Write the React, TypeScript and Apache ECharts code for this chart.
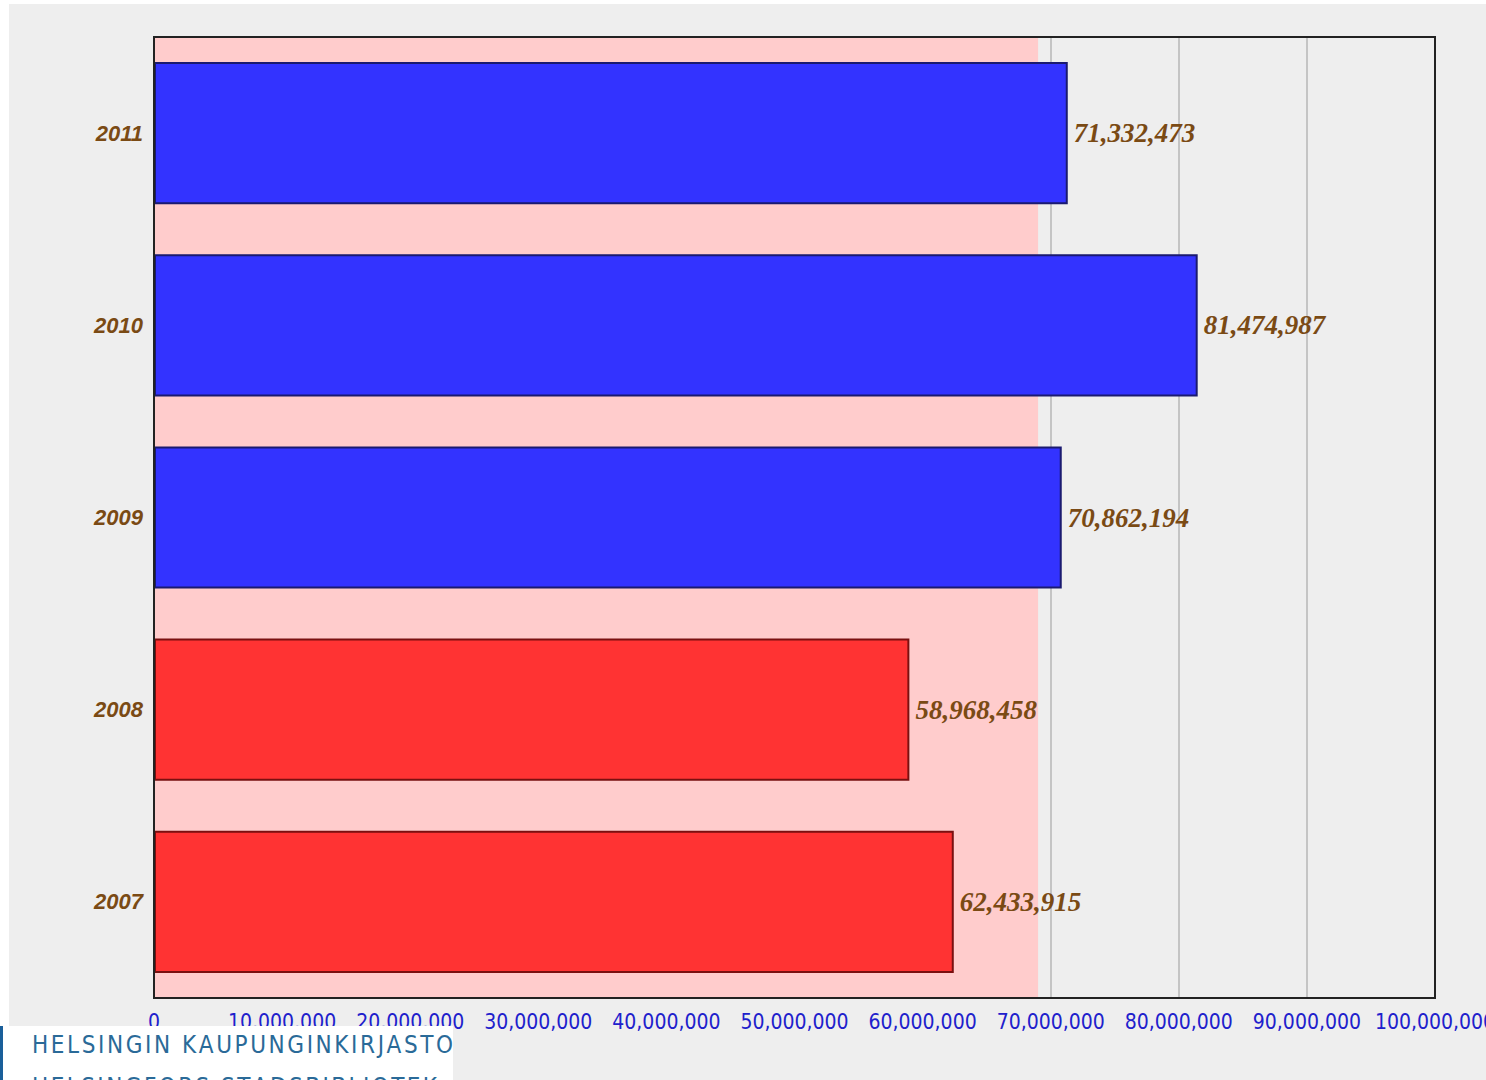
import React, { useEffect, useRef } from "react";
import * as echarts from "echarts";

const years = ["2007", "2008", "2009", "2010", "2011"];
const values = [62433915, 58968458, 70862194, 81474987, 71332473];
const barColors = ["#ff3333", "#ff3333", "#3333ff", "#3333ff", "#3333ff"];
const barBorders = ["#7a1010", "#7a1010", "#1a1a70", "#1a1a70", "#1a1a70"];
const averageValue = 69014405;
const xMax = 100000000;
const xInterval = 10000000;
const logoLine1 = "HELSINGIN KAUPUNGINKIRJASTO";
const logoLine2 = "HELSINGFORS STADSBIBLIOTEK";

function fmt(v: number) {
  return String(Math.round(v)).replace(/\B(?=(\d{3})+(?!\d))/g, ",");
}

function spacedText(text: string, x0: number, targetWidth: number, y: number, font: string, size: number, color: string) {
  const c = document.createElement("canvas").getContext("2d")!;
  c.font = `${size}px "${font}"`;
  const chars = Array.from(text);
  const widths = chars.map((ch) => c.measureText(ch).width);
  const total = widths.reduce((a, b) => a + b, 0);
  const tracking = (targetWidth - total) / (chars.length - 1);
  const els: any[] = [];
  let x = x0;
  chars.forEach((ch, i) => {
    els.push({
      type: "text",
      x,
      y,
      z: 100,
      style: { text: ch, fontFamily: font, fontSize: size, fill: color, verticalAlign: "middle" },
    });
    x += widths[i] + tracking;
  });
  return els;
}

export default function App() {
  const ref = useRef<HTMLDivElement>(null);
  useEffect(() => {
    document.body.style.margin = "0";
    const chart = echarts.init(ref.current!, undefined, { renderer: "svg" });
    const logoFont = "DejaVu Sans Condensed";
    chart.setOption({
      animation: false,
      backgroundColor: "#ffffff",
      grid: {
        left: 154,
        top: 37,
        right: 51,
        bottom: 82,
        outerBoundsMode: "none",
        containLabel: false,
        show: true,
        borderColor: "#222222",
        borderWidth: 2,
        backgroundColor: "transparent",
        z: 3,
      },
      xAxis: {
        type: "value",
        min: 0,
        max: xMax,
        interval: xInterval,
        axisLine: { show: false },
        axisTick: { show: false },
        splitLine: { show: true, lineStyle: { color: "#c4c4c4", width: 2 } },
        axisLabel: {
          color: "#2020cc",
          fontSize: 21,
          fontFamily: "DejaVu Sans Condensed, Liberation Sans Narrow, sans-serif",
          margin: 13,
          formatter: (v: number) => fmt(v),
        },
      },
      yAxis: {
        type: "category",
        data: years,
        axisLine: { show: false },
        axisTick: { show: false },
        splitLine: { show: false },
        axisLabel: {
          color: "#7a4a14",
          fontSize: 22,
          fontWeight: "bold",
          fontStyle: "italic",
          fontFamily: "Liberation Sans, Arial, sans-serif",
          margin: 11,
        },
      },
      series: [
        {
          type: "line",
          data: [],
          z: -1,
          silent: true,
          markArea: {
            silent: true,
            itemStyle: { color: "#ffcccc" },
            data: [[{ xAxis: 0 }, { xAxis: averageValue }]],
          },
        },
        {
          type: "bar",
          barCategoryGap: "26%",
          data: values.map((v, i) => ({
            value: v,
            itemStyle: { color: barColors[i], borderColor: barBorders[i], borderWidth: 2 },
          })),
          label: {
            show: true,
            position: "right",
            distance: 6,
            color: "#7a4a14",
            fontSize: 27,
            fontWeight: "bold",
            fontStyle: "italic",
            fontFamily: "Liberation Serif, Times New Roman, serif",
            formatter: (p: any) => fmt(p.value),
          },
        },
      ],
      graphic: [
        { type: "rect", z: -100, shape: { x: 9, y: 4, width: 1477, height: 1076 }, style: { fill: "#eeeeee" } },
        { type: "rect", z: 99, shape: { x: 0, y: 1026, width: 453, height: 54 }, style: { fill: "#ffffff" } },
        { type: "rect", z: 100, shape: { x: 0, y: 1026, width: 3, height: 54 }, style: { fill: "#1a5f9a" } },
        ...spacedText(logoLine1, 32, 421, 1045, logoFont, 24, "#2a6a98"),
        ...spacedText(logoLine2, 32, 405, 1087, logoFont, 24, "#2a6a98"),
      ],
    });
    return () => chart.dispose();
  }, []);
  return <div ref={ref} style={{ width: 1486, height: 1080 }} />;
}
